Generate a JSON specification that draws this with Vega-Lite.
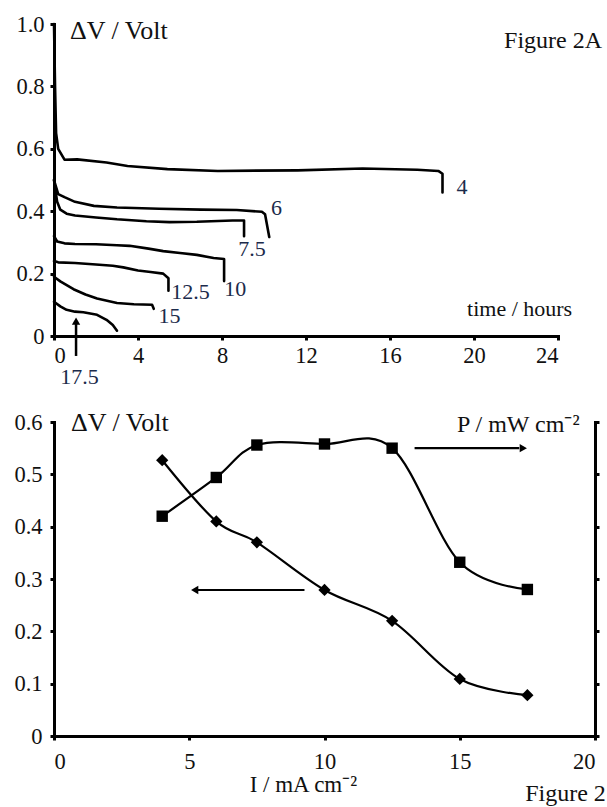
{
  "$schema": "https://vega.github.io/schema/vega-lite/v6.json",
  "background": "white",
  "padding": {"left": 13, "top": 13, "right": 0, "bottom": 0},
  "bounds": "flush",
  "spacing": 86,
  "config": {
    "font": "Liberation Serif, Times New Roman, serif",
    "view": {"stroke": null},
    "axis": {
      "grid": false,
      "title": null,
      "domainColor": "#000",
      "domainWidth": 3,
      "domainCap": "square",
      "tickColor": "#000",
      "tickWidth": 3,
      "tickSize": 4,
      "labelFont": "Liberation Serif, Times New Roman, serif",
      "labelFontSize": 22.5,
      "labelColor": "#111"
    },
    "text": {"font": "Liberation Serif, Times New Roman, serif", "fontSize": 22, "color": "#111"}
  },
  "datasets": {
    "curves": [
      {"curve": "4", "i": 1, "t": 0, "v": 1.0},
      {"curve": "4", "i": 2, "t": 0.05, "v": 0.8},
      {"curve": "4", "i": 3, "t": 0.1, "v": 0.65},
      {"curve": "4", "i": 4, "t": 0.2, "v": 0.6},
      {"curve": "4", "i": 5, "t": 0.5, "v": 0.565},
      {"curve": "4", "i": 6, "t": 1.1, "v": 0.566},
      {"curve": "4", "i": 7, "t": 2.5, "v": 0.556},
      {"curve": "4", "i": 8, "t": 3.5, "v": 0.545},
      {"curve": "4", "i": 9, "t": 5.4, "v": 0.535},
      {"curve": "4", "i": 10, "t": 7.8, "v": 0.529},
      {"curve": "4", "i": 11, "t": 11.6, "v": 0.531},
      {"curve": "4", "i": 12, "t": 14.7, "v": 0.537},
      {"curve": "4", "i": 13, "t": 17.3, "v": 0.533},
      {"curve": "4", "i": 14, "t": 18.3, "v": 0.529},
      {"curve": "4", "i": 15, "t": 18.5, "v": 0.52},
      {"curve": "4", "i": 16, "t": 18.5, "v": 0.46},
      {"curve": "6", "i": 1, "t": 0, "v": 0.5},
      {"curve": "6", "i": 2, "t": 0.2, "v": 0.455},
      {"curve": "6", "i": 3, "t": 0.5, "v": 0.445},
      {"curve": "6", "i": 4, "t": 1, "v": 0.43},
      {"curve": "6", "i": 5, "t": 1.9, "v": 0.417},
      {"curve": "6", "i": 6, "t": 3, "v": 0.412},
      {"curve": "6", "i": 7, "t": 5, "v": 0.408},
      {"curve": "6", "i": 8, "t": 7, "v": 0.405},
      {"curve": "6", "i": 9, "t": 8.7, "v": 0.404},
      {"curve": "6", "i": 10, "t": 9.9, "v": 0.398},
      {"curve": "6", "i": 11, "t": 10.05, "v": 0.39},
      {"curve": "6", "i": 12, "t": 10.25, "v": 0.317},
      {"curve": "7.5", "i": 1, "t": 0, "v": 0.5},
      {"curve": "7.5", "i": 2, "t": 0.15, "v": 0.43},
      {"curve": "7.5", "i": 3, "t": 0.3, "v": 0.405},
      {"curve": "7.5", "i": 4, "t": 0.6, "v": 0.392},
      {"curve": "7.5", "i": 5, "t": 1, "v": 0.386},
      {"curve": "7.5", "i": 6, "t": 2, "v": 0.38},
      {"curve": "7.5", "i": 7, "t": 3, "v": 0.374},
      {"curve": "7.5", "i": 8, "t": 4.4, "v": 0.368},
      {"curve": "7.5", "i": 9, "t": 5.5, "v": 0.365},
      {"curve": "7.5", "i": 10, "t": 6.8, "v": 0.366},
      {"curve": "7.5", "i": 11, "t": 8.5, "v": 0.37},
      {"curve": "7.5", "i": 12, "t": 9.05, "v": 0.37},
      {"curve": "7.5", "i": 13, "t": 9.05, "v": 0.32},
      {"curve": "10", "i": 1, "t": 0, "v": 0.32},
      {"curve": "10", "i": 2, "t": 0.15, "v": 0.303},
      {"curve": "10", "i": 3, "t": 0.5, "v": 0.297},
      {"curve": "10", "i": 4, "t": 1, "v": 0.295},
      {"curve": "10", "i": 5, "t": 2, "v": 0.294},
      {"curve": "10", "i": 6, "t": 3, "v": 0.291},
      {"curve": "10", "i": 7, "t": 3.6, "v": 0.289},
      {"curve": "10", "i": 8, "t": 4.5, "v": 0.28},
      {"curve": "10", "i": 9, "t": 5.2, "v": 0.272},
      {"curve": "10", "i": 10, "t": 6, "v": 0.266},
      {"curve": "10", "i": 11, "t": 6.8, "v": 0.26},
      {"curve": "10", "i": 12, "t": 7.6, "v": 0.25},
      {"curve": "10", "i": 13, "t": 8.1, "v": 0.247},
      {"curve": "10", "i": 14, "t": 8.1, "v": 0.176},
      {"curve": "12.5", "i": 1, "t": 0, "v": 0.24},
      {"curve": "12.5", "i": 2, "t": 0.2, "v": 0.236},
      {"curve": "12.5", "i": 3, "t": 1, "v": 0.234},
      {"curve": "12.5", "i": 4, "t": 2, "v": 0.229},
      {"curve": "12.5", "i": 5, "t": 2.8, "v": 0.225},
      {"curve": "12.5", "i": 6, "t": 3.3, "v": 0.22},
      {"curve": "12.5", "i": 7, "t": 4.0, "v": 0.21},
      {"curve": "12.5", "i": 8, "t": 4.6, "v": 0.205},
      {"curve": "12.5", "i": 9, "t": 5.2, "v": 0.2},
      {"curve": "12.5", "i": 10, "t": 5.45, "v": 0.185},
      {"curve": "12.5", "i": 11, "t": 5.45, "v": 0.145},
      {"curve": "15", "i": 1, "t": 0, "v": 0.19},
      {"curve": "15", "i": 2, "t": 0.3, "v": 0.175},
      {"curve": "15", "i": 3, "t": 0.93, "v": 0.15},
      {"curve": "15", "i": 4, "t": 1.5, "v": 0.133},
      {"curve": "15", "i": 5, "t": 2.05, "v": 0.12},
      {"curve": "15", "i": 6, "t": 3, "v": 0.106},
      {"curve": "15", "i": 7, "t": 3.8, "v": 0.102},
      {"curve": "15", "i": 8, "t": 4.67, "v": 0.1},
      {"curve": "15", "i": 9, "t": 4.75, "v": 0.087},
      {"curve": "17.5", "i": 1, "t": 0, "v": 0.11},
      {"curve": "17.5", "i": 2, "t": 0.3, "v": 0.095},
      {"curve": "17.5", "i": 3, "t": 0.6, "v": 0.084},
      {"curve": "17.5", "i": 4, "t": 1, "v": 0.078},
      {"curve": "17.5", "i": 5, "t": 1.4, "v": 0.076},
      {"curve": "17.5", "i": 6, "t": 2.05, "v": 0.068},
      {"curve": "17.5", "i": 7, "t": 2.5, "v": 0.052},
      {"curve": "17.5", "i": 8, "t": 2.8, "v": 0.035},
      {"curve": "17.5", "i": 9, "t": 3.0, "v": 0.017}
    ],
    "curveLabels": [
      {"label": "4", "t": 19.43, "v": 0.478},
      {"label": "6", "t": 10.6, "v": 0.41},
      {"label": "7.5", "t": 9.43, "v": 0.279},
      {"label": "10", "t": 8.63, "v": 0.15},
      {"label": "12.5", "t": 6.5, "v": 0.141},
      {"label": "15", "t": 5.5, "v": 0.064},
      {"label": "17.5", "t": 1.22, "v": -0.13}
    ],
    "topTitles": [
      {"label": "ΔV / Volt", "t": 0.76, "v": 0.978}
    ],
    "topFigure": [
      {"label": "Figure 2A", "t": 21.43, "v": 0.946}
    ],
    "topXTitle": [
      {"label": "time / hours", "t": 19.67, "v": 0.087}
    ],
    "topArrow": [
      {"t": 1.05, "v0": -0.064, "v1": 0.045}
    ],
    "topArrowHead": [
      {"t": 1.05, "v": 0.048}
    ],
    "voltage": [
      {"I": 4, "v": 0.527},
      {"I": 6, "v": 0.41},
      {"I": 7.5, "v": 0.37},
      {"I": 10, "v": 0.279},
      {"I": 12.5, "v": 0.22},
      {"I": 15, "v": 0.109},
      {"I": 17.5, "v": 0.078}
    ],
    "power": [
      {"I": 4, "P": 2.1},
      {"I": 6, "P": 2.47},
      {"I": 7.5, "P": 2.78},
      {"I": 10, "P": 2.79},
      {"I": 12.5, "P": 2.75},
      {"I": 15, "P": 1.66},
      {"I": 17.5, "P": 1.4}
    ],
    "arrows": [
      {"dir": "left", "I0": 5.3, "I1": 9.26, "v": 0.279},
      {"dir": "right", "I0": 13.33, "I1": 17.2, "v": 0.55}
    ],
    "arrowLeftHead": [{"I": 5.2, "v": 0.279}],
    "arrowRightHead": [{"I": 17.35, "v": 0.55}],
    "botVTitle": [
      {"label": "ΔV / Volt", "I": 0.63, "v": 0.598}
    ],
    "botPTitle": [
      {"label": "P / mW cm⁻²", "I": 14.9, "v": 0.594}
    ],
    "botCenterTitles": [
      {"label": "I / mA cm⁻²", "I": 9.22, "v": -0.094}
    ],
    "botRightTitles": [
      {"label": "Figure 2", "I": 20.4, "v": -0.111}
    ]
  },
  "vconcat": [
    {
      "width": 504,
      "height": 312,
      "layer": [
        {
          "data": {"name": "curves"},
          "mark": {"type": "line", "color": "#000", "strokeWidth": 2.6, "strokeJoin": "round", "strokeCap": "round"},
          "encoding": {
            "x": {"field": "t", "type": "quantitative", "scale": {"domain": [0, 24], "nice": false},
                  "axis": {"values": [0, 4, 8, 12, 16, 20, 24], "labelPadding": 4}},
            "y": {"field": "v", "type": "quantitative", "scale": {"domain": [0, 1], "nice": false},
                  "axis": {"values": [0, 0.2, 0.4, 0.6, 0.8, 1.0], "labelPadding": 6,
                           "labelExpr": "datum.value == 0 ? '0' : format(datum.value, '.1f')"}},
            "detail": {"field": "curve"},
            "order": {"field": "i", "type": "quantitative"}
          }
        },
        {
          "data": {"name": "topArrow"},
          "mark": {"type": "rule", "color": "#000", "strokeWidth": 2.5, "clip": false},
          "encoding": {
            "x": {"field": "t", "type": "quantitative", "scale": {"domain": [0, 24], "nice": false}},
            "y": {"field": "v0", "type": "quantitative", "scale": {"domain": [0, 1], "nice": false}},
            "y2": {"field": "v1"}
          }
        },
        {
          "data": {"name": "topArrowHead"},
          "mark": {"type": "point", "shape": "triangle-up", "filled": true, "color": "#000", "size": 70, "opacity": 1, "clip": false},
          "encoding": {
            "x": {"field": "t", "type": "quantitative", "scale": {"domain": [0, 24], "nice": false}},
            "y": {"field": "v", "type": "quantitative", "scale": {"domain": [0, 1], "nice": false}}
          }
        },
        {
          "data": {"name": "curveLabels"},
          "mark": {"type": "text", "align": "center", "baseline": "middle", "color": "#1c2b4b", "fontSize": 22, "clip": false},
          "encoding": {
            "x": {"field": "t", "type": "quantitative", "scale": {"domain": [0, 24], "nice": false}},
            "y": {"field": "v", "type": "quantitative", "scale": {"domain": [0, 1], "nice": false}},
            "text": {"field": "label"}
          }
        },
        {
          "data": {"name": "topTitles"},
          "mark": {"type": "text", "align": "left", "baseline": "middle", "color": "#111", "fontSize": 26, "clip": false},
          "encoding": {
            "x": {"field": "t", "type": "quantitative", "scale": {"domain": [0, 24], "nice": false}},
            "y": {"field": "v", "type": "quantitative", "scale": {"domain": [0, 1], "nice": false}},
            "text": {"field": "label"}
          }
        },
        {
          "data": {"name": "topFigure"},
          "mark": {"type": "text", "align": "left", "baseline": "middle", "color": "#111", "fontSize": 24, "clip": false},
          "encoding": {
            "x": {"field": "t", "type": "quantitative", "scale": {"domain": [0, 24], "nice": false}},
            "y": {"field": "v", "type": "quantitative", "scale": {"domain": [0, 1], "nice": false}},
            "text": {"field": "label"}
          }
        },
        {
          "data": {"name": "topXTitle"},
          "mark": {"type": "text", "align": "left", "baseline": "middle", "color": "#111", "fontSize": 22, "clip": false},
          "encoding": {
            "x": {"field": "t", "type": "quantitative", "scale": {"domain": [0, 24], "nice": false}},
            "y": {"field": "v", "type": "quantitative", "scale": {"domain": [0, 1], "nice": false}},
            "text": {"field": "label"}
          }
        }
      ]
    },
    {
      "width": 541,
      "height": 314,
      "layer": [
        {
          "layer": [
            {
              "data": {"name": "voltage"},
              "mark": {"type": "line", "color": "#000", "strokeWidth": 2.2, "interpolate": "cardinal"},
              "encoding": {
                "x": {"field": "I", "type": "quantitative", "scale": {"domain": [0, 20], "nice": false},
                      "axis": {"values": [0, 5, 10, 15, 20], "labelPadding": 10}},
                "y": {"field": "v", "type": "quantitative", "scale": {"domain": [0, 0.6], "nice": false},
                      "axis": {"values": [0, 0.1, 0.2, 0.3, 0.4, 0.5, 0.6], "labelPadding": 8,
                               "labelExpr": "datum.value == 0 ? '0' : format(datum.value, '.1f')"}}
              }
            },
            {
              "data": {"name": "voltage"},
              "mark": {"type": "point", "shape": "diamond", "filled": true, "color": "#000", "size": 150, "opacity": 1},
              "encoding": {
                "x": {"field": "I", "type": "quantitative", "scale": {"domain": [0, 20], "nice": false}},
                "y": {"field": "v", "type": "quantitative", "scale": {"domain": [0, 0.6], "nice": false}}
              }
            },
            {
              "data": {"name": "arrows"},
              "mark": {"type": "rule", "color": "#000", "strokeWidth": 2.2},
              "encoding": {
                "x": {"field": "I0", "type": "quantitative", "scale": {"domain": [0, 20], "nice": false}},
                "x2": {"field": "I1"},
                "y": {"field": "v", "type": "quantitative", "scale": {"domain": [0, 0.6], "nice": false}}
              }
            },
            {
              "data": {"name": "arrowLeftHead"},
              "mark": {"type": "point", "shape": "triangle-left", "filled": true, "color": "#000", "size": 70, "opacity": 1},
              "encoding": {
                "x": {"field": "I", "type": "quantitative", "scale": {"domain": [0, 20], "nice": false}},
                "y": {"field": "v", "type": "quantitative", "scale": {"domain": [0, 0.6], "nice": false}}
              }
            },
            {
              "data": {"name": "arrowRightHead"},
              "mark": {"type": "point", "shape": "triangle-right", "filled": true, "color": "#000", "size": 70, "opacity": 1},
              "encoding": {
                "x": {"field": "I", "type": "quantitative", "scale": {"domain": [0, 20], "nice": false}},
                "y": {"field": "v", "type": "quantitative", "scale": {"domain": [0, 0.6], "nice": false}}
              }
            },
            {
              "data": {"name": "botVTitle"},
              "mark": {"type": "text", "align": "left", "baseline": "middle", "color": "#111", "fontSize": 26, "clip": false},
              "encoding": {
                "x": {"field": "I", "type": "quantitative", "scale": {"domain": [0, 20], "nice": false}},
                "y": {"field": "v", "type": "quantitative", "scale": {"domain": [0, 0.6], "nice": false}},
                "text": {"field": "label"}
              }
            },
            {
              "data": {"name": "botPTitle"},
              "mark": {"type": "text", "align": "left", "baseline": "middle", "color": "#111", "fontSize": 24, "clip": false},
              "encoding": {
                "x": {"field": "I", "type": "quantitative", "scale": {"domain": [0, 20], "nice": false}},
                "y": {"field": "v", "type": "quantitative", "scale": {"domain": [0, 0.6], "nice": false}},
                "text": {"field": "label"}
              }
            },
            {
              "data": {"name": "botCenterTitles"},
              "mark": {"type": "text", "align": "center", "baseline": "middle", "color": "#111", "fontSize": 23, "clip": false},
              "encoding": {
                "x": {"field": "I", "type": "quantitative", "scale": {"domain": [0, 20], "nice": false}},
                "y": {"field": "v", "type": "quantitative", "scale": {"domain": [0, 0.6], "nice": false}},
                "text": {"field": "label"}
              }
            },
            {
              "data": {"name": "botRightTitles"},
              "mark": {"type": "text", "align": "right", "baseline": "middle", "color": "#111", "fontSize": 24, "clip": false},
              "encoding": {
                "x": {"field": "I", "type": "quantitative", "scale": {"domain": [0, 20], "nice": false}},
                "y": {"field": "v", "type": "quantitative", "scale": {"domain": [0, 0.6], "nice": false}},
                "text": {"field": "label"}
              }
            }
          ]
        },
        {
          "layer": [
            {
              "data": {"name": "power"},
              "mark": {"type": "line", "color": "#000", "strokeWidth": 2.2, "interpolate": "cardinal"},
              "encoding": {
                "x": {"field": "I", "type": "quantitative", "scale": {"domain": [0, 20], "nice": false}},
                "y": {"field": "P", "type": "quantitative", "scale": {"domain": [0, 3], "nice": false},
                      "axis": {"values": [0, 0.5, 1, 1.5, 2, 2.5, 3], "labels": false, "tickSize": 4}}
              }
            },
            {
              "data": {"name": "power"},
              "mark": {"type": "point", "shape": "square", "filled": true, "color": "#000", "size": 130, "opacity": 1},
              "encoding": {
                "x": {"field": "I", "type": "quantitative", "scale": {"domain": [0, 20], "nice": false}},
                "y": {"field": "P", "type": "quantitative", "scale": {"domain": [0, 3], "nice": false}}
              }
            }
          ]
        }
      ],
      "resolve": {"scale": {"y": "independent"}, "axis": {"y": "independent"}}
    }
  ]
}
